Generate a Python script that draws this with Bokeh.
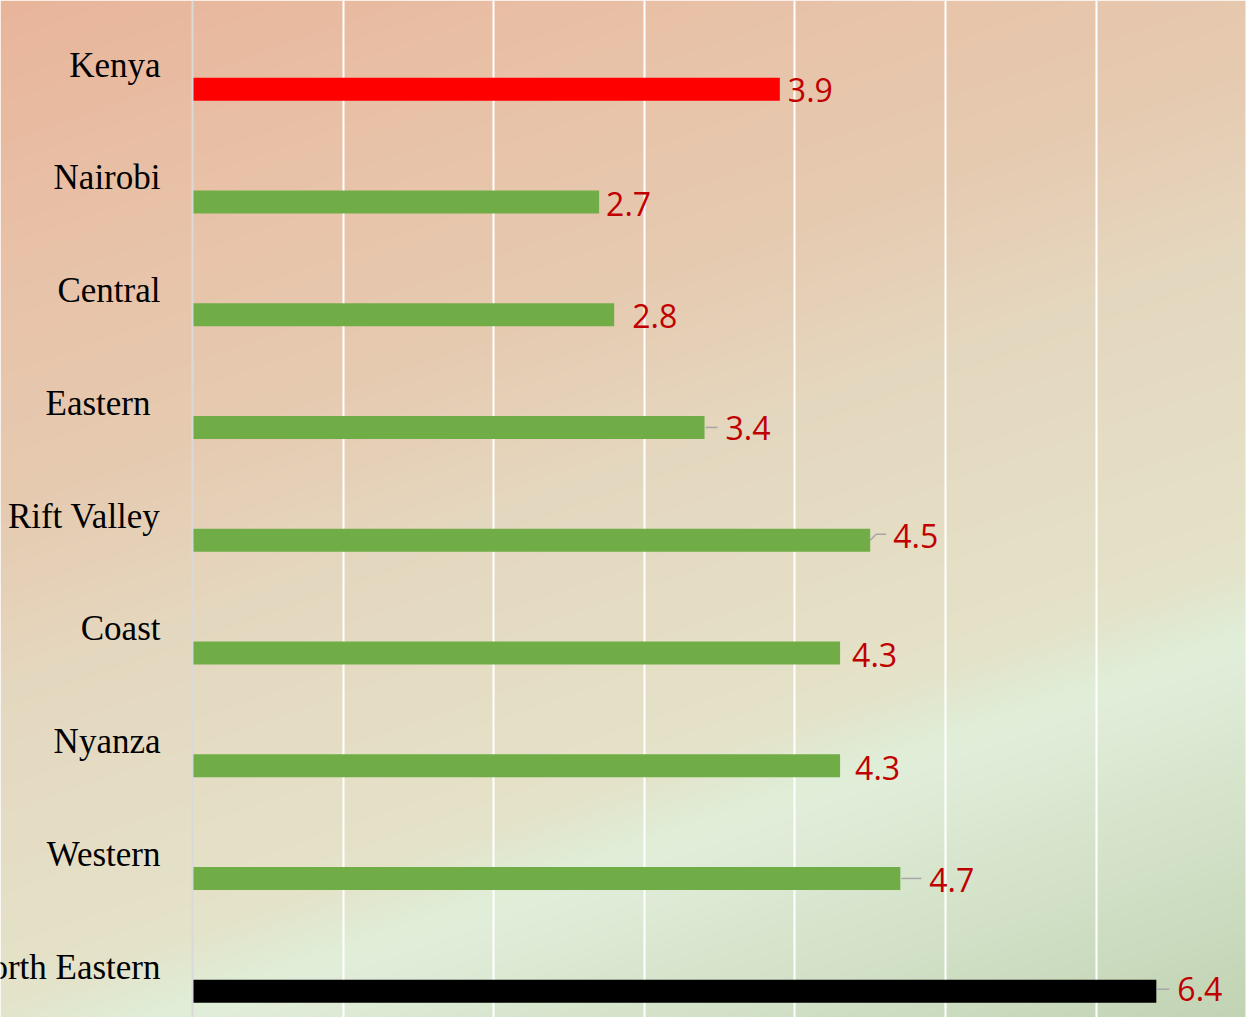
import numpy as np
from bokeh.plotting import figure
from bokeh.models import Range1d, FixedTicker, Span, ColumnDataSource
from bokeh.core.properties import value
from bokeh.embed import file_html
from bokeh.resources import INLINE

# ---------------- data ----------------
regions = ["Kenya", "Nairobi", "Central", "Eastern", "Rift Valley",
           "Coast", "Nyanza", "Western", "North Eastern"]
values = [3.9, 2.7, 2.8, 3.4, 4.5, 4.3, 4.3, 4.7, 6.4]
value_labels = ["3.9", "2.7", "2.8", "3.4", "4.5", "4.3", "4.3", "4.7", "6.4"]
grid_ticks = [1, 2, 3, 4, 5, 6, 7]

# ---------------- styles / layout ----------------
bar_colors = ["#FF0000"] + ["#70AD47"] * 7 + ["#000000"]
label_dx_px = [8, 7, 18, 21, 23, 12, 15, 29, 21]     # gap between bar end and label
label_dy_px = [1, 2, 1, 1, -4, 2, 2, 2, -2]          # + = down
cat_dx_px = [0, 0, 0, -10, 0, 0, 0, 0, 0]
leaders_px = {3: [(1, 0), (13, 0)],
              4: [(0, 0), (6, -6), (16, -6)],
              7: [(1, 0), (21, 0)],
              8: [(1, -2), (13, -2)]}

W, H = 1246, 1017
PX_X = 150.6     # pixels per unit on x
PX_Y = 112.75    # pixels per category
n = len(regions)
ypos = [n - 1 - i for i in range(n)]
x_start = -192 / PX_X
x_end = x_start + W / PX_X
y_end = (n - 1) + 88.7 / PX_Y
y_start = y_end - H / PX_Y

p = figure(width=W, height=H, output_backend="svg", toolbar_location=None,
           x_range=Range1d(x_start, x_end), y_range=Range1d(y_start, y_end),
           x_axis_location=None, y_axis_location=None, min_border=0)
p.outline_line_color = None
p.border_fill_color = None

# ---------------- gradient background ----------------
cols = np.arange(W) + 0.5
rows = np.arange(H) + 0.5
X, Y = np.meshgrid(cols, rows)
d = 0.33 * X + 0.94 * Y
stop_d = [0, 250, 480, 640, 940, 1000, 1030, 1367]
stop_c = ["#E9B59B", "#E8C2A8", "#E6CBB1", "#E5D7BF", "#E4E3C9", "#E0EDD7", "#E1EDD9", "#C2D4B4"]
rgb = np.array([[int(c[i:i + 2], 16) for i in (1, 3, 5)] for c in stop_c], dtype=float)
img = np.zeros((H, W, 4), dtype=np.uint8)
for k in range(3):
    img[:, :, k] = np.clip(np.interp(d, stop_d, rgb[:, k]), 0, 255).astype(np.uint8)
img[:, :, 3] = 255
img = img[::-1].copy()
img32 = img.view(dtype=np.uint32).reshape((H, W))
r_img = p.image_rgba(image=[img32], x=x_start, y=y_start, dw=x_end - x_start, dh=y_end - y_start)
r_img.level = "image"

# ---------------- grid & axis line ----------------
p.xgrid.ticker = FixedTicker(ticks=grid_ticks)
p.xgrid.grid_line_color = "white"
p.xgrid.grid_line_width = 2
p.ygrid.visible = False
p.add_layout(Span(location=0, dimension="height", line_color="#D9D9D9", line_width=2))

# ---------------- bars ----------------
src = ColumnDataSource(dict(y=ypos, v=values, c=bar_colors, lab=value_labels, reg=regions))
p.hbar(y="y", left=0, right="v", height=23 / PX_Y, fill_color="c", line_color=None, source=src)

# ---------------- category labels ----------------
p.text(x=[(-32 + dx) / PX_X for dx in cat_dx_px], y=[yy + 24 / PX_Y for yy in ypos], text=regions,
       text_align="right", text_baseline="middle",
       text_font=value("Liberation Serif"), text_font_size="35px", text_color="#000000")

# ---------------- leader lines ----------------
xs, ys = [], []
for i, pts in leaders_px.items():
    xs.append([values[i] + px / PX_X for px, py in pts])
    ys.append([ypos[i] - py / PX_Y for px, py in pts])
p.multi_line(xs=xs, ys=ys, line_color="#A6A6A6", line_width=1.5)

# ---------------- value labels ----------------
p.text(x=[v + dx / PX_X for v, dx in zip(values, label_dx_px)],
       y=[yy - dy / PX_Y for yy, dy in zip(ypos, label_dy_px)],
       text=value_labels, text_align="left", text_baseline="middle",
       text_font=value("Open Sans"), text_font_size="32px", text_color="#C00000")

open("out.html", "w").write(file_html(p, INLINE))
